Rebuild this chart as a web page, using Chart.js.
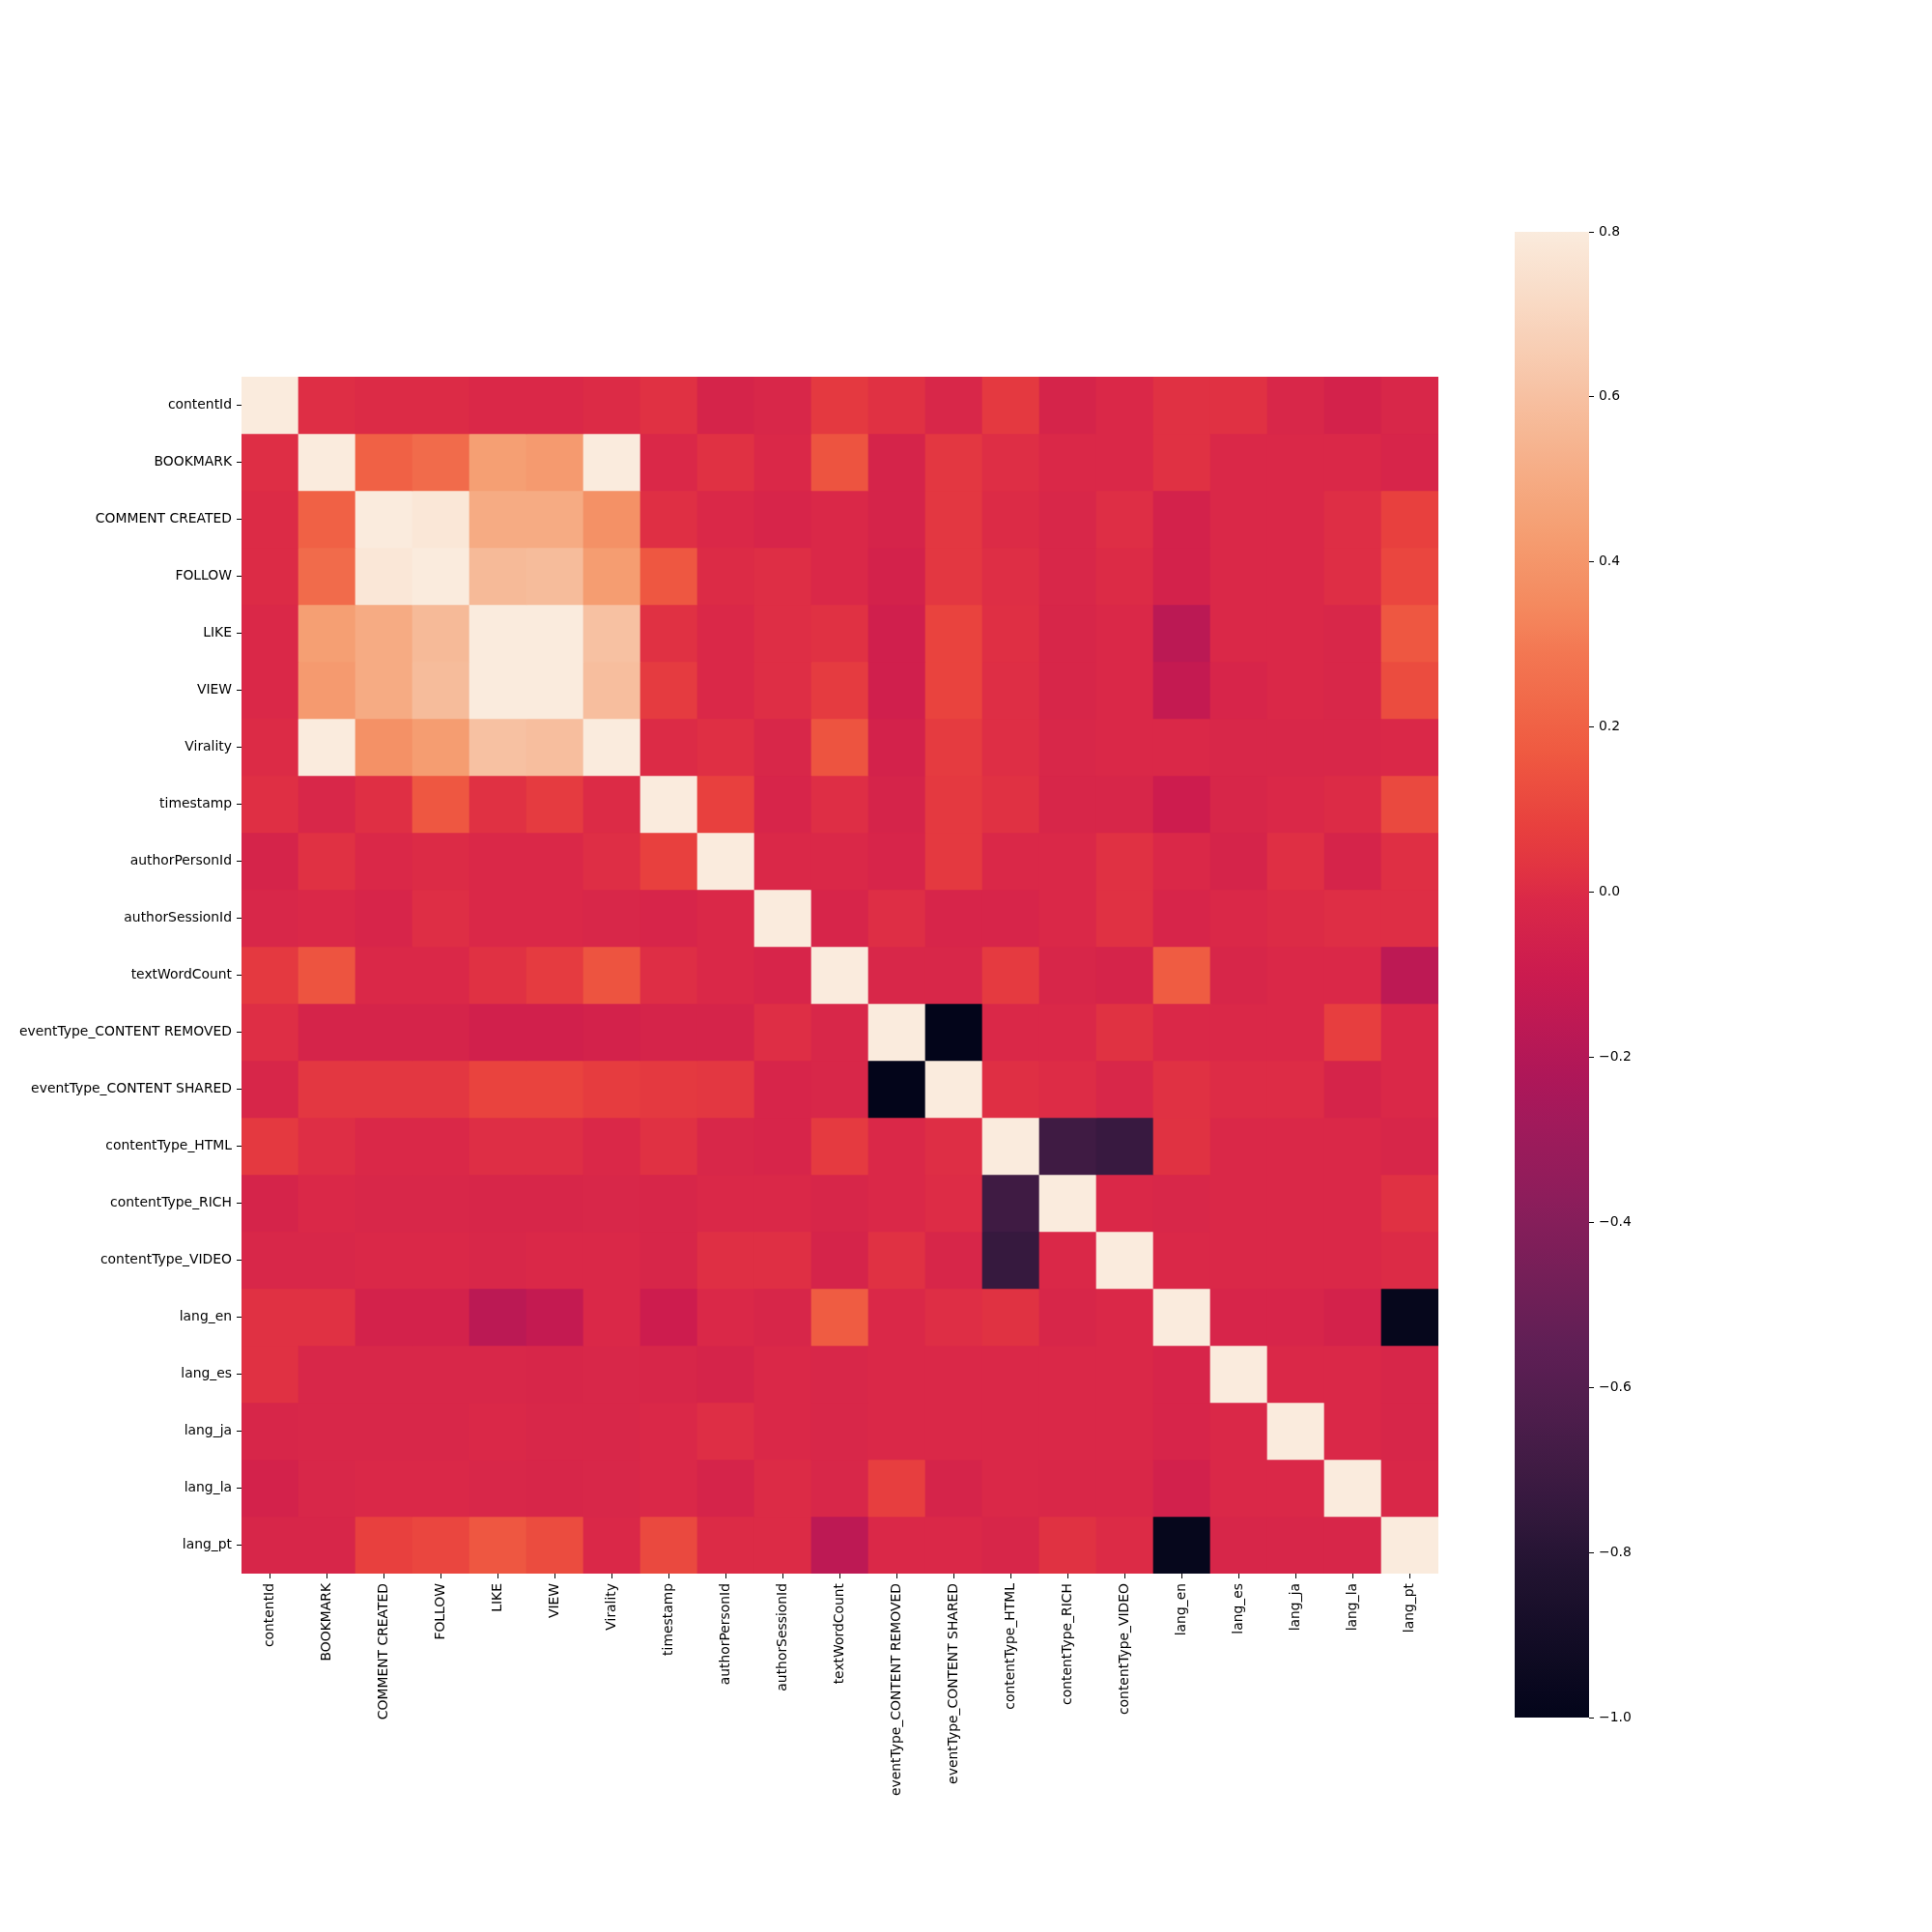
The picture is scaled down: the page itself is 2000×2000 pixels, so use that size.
<!DOCTYPE html>
<html><head><meta charset="utf-8">
<script src="https://cdn.jsdelivr.net/npm/chart.js@4.4.1/dist/chart.umd.min.js"></script>
<style>
html,body{margin:0;padding:0;background:#fff;}
#wrap{position:relative;width:2000px;height:2000px;}
canvas{position:absolute;top:0;}
</style>
</head><body>
<div id="wrap">
<canvas id="main" width="2000" height="2000" style="left:0;width:2000px;height:2000px"></canvas>
<canvas id="cbar" width="400" height="2000" style="left:1500px;width:400px;height:2000px"></canvas>
</div>
<script>
// ---- data ----
const labels = ["contentId","BOOKMARK","COMMENT CREATED","FOLLOW","LIKE","VIEW","Virality","timestamp","authorPersonId","authorSessionId","textWordCount","eventType_CONTENT REMOVED","eventType_CONTENT SHARED","contentType_HTML","contentType_RICH","contentType_VIDEO","lang_en","lang_es","lang_ja","lang_la","lang_pt"];

const rowContentId      = [1, 0.01, 0, 0, -0.01, -0.01, 0, 0.02, -0.04, -0.02, 0.05, 0.02, -0.02, 0.05, -0.04, -0.01, 0.02, 0.02, -0.02, -0.05, -0.02];
const rowBookmark       = [0.01, 1, 0.2, 0.24, 0.44, 0.42, 0.95, -0.01, 0.02, -0.01, 0.15, -0.04, 0.045, 0.01, -0.01, -0.01, 0.02, -0.01, -0.01, -0.01, -0.03];
const rowComment        = [0, 0.2, 1, 0.78, 0.5, 0.5, 0.38, 0.015, -0.01, -0.03, -0.01, -0.04, 0.045, 0, -0.02, 0.01, -0.05, -0.01, -0.01, 0.01, 0.08];
const rowFollow         = [0, 0.24, 0.78, 1, 0.57, 0.58, 0.43, 0.16, 0, 0.01, -0.01, -0.05, 0.045, 0.01, -0.02, 0, -0.05, -0.01, -0.01, 0.01, 0.1];
const rowLike           = [-0.01, 0.44, 0.5, 0.57, 1, 0.95, 0.6, 0.02, -0.01, 0.01, 0.02, -0.07, 0.09, 0.015, -0.025, -0.01, -0.17, -0.01, -0.01, -0.02, 0.16];
const rowView           = [-0.01, 0.42, 0.5, 0.58, 0.95, 1, 0.59, 0.06, -0.01, 0.01, 0.06, -0.07, 0.09, 0.01, -0.025, -0.01, -0.13, -0.03, -0.01, -0.02, 0.12];
const rowVirality       = [0, 0.95, 0.38, 0.43, 0.6, 0.59, 1, 0, 0.015, -0.02, 0.15, -0.05, 0.06, 0.01, -0.02, -0.01, -0.01, -0.02, -0.02, -0.02, -0.01];
const rowTimestamp      = [0.015, -0.02, 0.015, 0.16, 0.02, 0.06, 0, 1, 0.08, -0.03, 0.01, -0.04, 0.05, 0.02, -0.025, -0.025, -0.09, -0.025, -0.01, 0, 0.11];
const rowAuthorPerson   = [-0.04, 0.02, -0.01, 0, -0.01, -0.01, 0.01, 0.08, 1, -0.01, -0.01, -0.03, 0.05, -0.01, -0.01, 0.02, -0.01, -0.04, 0.015, -0.04, 0.015];
const rowAuthorSession  = [-0.02, -0.01, -0.03, 0.01, -0.01, -0.01, -0.02, -0.03, -0.01, 1, -0.03, 0.01, -0.03, -0.03, -0.01, 0.02, -0.03, -0.01, 0, 0.01, 0.01];
const rowTextWordCount  = [0.05, 0.15, -0.01, -0.01, 0.02, 0.06, 0.15, 0.01, -0.01, -0.03, 1, -0.02, -0.02, 0.055, -0.025, -0.04, 0.18, -0.025, -0.01, -0.01, -0.16];
const rowRemoved        = [0.01, -0.04, -0.04, -0.04, -0.065, -0.065, -0.05, -0.04, -0.04, 0.01, -0.02, 1, -1, -0.01, -0.01, 0.025, -0.01, -0.01, -0.01, 0.07, -0.01];
const rowShared         = [-0.025, 0.045, 0.045, 0.045, 0.09, 0.09, 0.065, 0.05, 0.045, -0.03, -0.02, -1, 1, 0.015, 0.005, -0.02, 0.02, 0.005, 0.005, -0.04, -0.01];
const rowHtml           = [0.05, 0.01, -0.01, -0.01, 0.01, 0.01, -0.01, 0.02, -0.02, -0.03, 0.055, -0.01, 0.01, 1, -0.7, -0.73, 0.025, -0.01, -0.01, -0.01, -0.025];
const rowRich           = [-0.04, -0.01, -0.02, -0.02, -0.025, -0.025, -0.02, -0.025, -0.01, -0.01, -0.025, -0.01, 0.005, -0.7, 1, -0.01, -0.02, -0.01, -0.01, -0.01, 0.02];
const rowVideo          = [-0.02, -0.02, -0.01, -0.01, -0.02, -0.01, -0.01, -0.025, 0.015, 0.015, -0.04, 0.02, -0.025, -0.74, -0.01, 1, -0.01, -0.01, -0.01, -0.01, 0.0];
const rowLangEn         = [0.02, 0.02, -0.05, -0.05, -0.17, -0.13, -0.01, -0.09, -0.01, -0.025, 0.18, -0.01, 0.01, 0.025, -0.025, -0.01, 1, -0.03, -0.03, -0.05, -0.98];
const rowLangEs         = [0.02, -0.02, -0.02, -0.02, -0.02, -0.025, -0.02, -0.025, -0.04, -0.01, -0.02, -0.01, -0.01, -0.01, -0.01, -0.01, -0.03, 1, -0.01, -0.01, -0.025];
const rowLangJa         = [-0.025, -0.02, -0.02, -0.02, -0.01, -0.02, -0.02, -0.01, 0.01, -0.01, -0.02, -0.01, -0.01, -0.01, -0.01, -0.01, -0.03, -0.01, 1, -0.01, -0.025];
const rowLangLa         = [-0.05, -0.02, -0.01, -0.01, -0.02, -0.025, -0.02, -0.01, -0.04, 0.0, -0.02, 0.07, -0.04, -0.01, -0.015, -0.015, -0.06, -0.01, -0.01, 1, -0.015];
const rowLangPt         = [-0.025, -0.025, 0.08, 0.1, 0.16, 0.12, -0.01, 0.11, 0.0, 0.0, -0.16, -0.01, -0.01, -0.025, 0.025, 0.0, -0.98, -0.025, -0.025, -0.025, 1];

const matrix = [rowContentId,rowBookmark,rowComment,rowFollow,rowLike,rowView,rowVirality,rowTimestamp,rowAuthorPerson,rowAuthorSession,rowTextWordCount,rowRemoved,rowShared,rowHtml,rowRich,rowVideo,rowLangEn,rowLangEs,rowLangJa,rowLangLa,rowLangPt];

const vmin = -1.0, vmax = 0.8;
const cbarTicks = [-1.0, -0.8, -0.6, -0.4, -0.2, 0.0, 0.2, 0.4, 0.6, 0.8];

// ---- rocket colormap (approximate) ----
const rocket = [
  [0.00,'#03051A'],[0.05,'#120C25'],[0.10,'#221331'],[0.143,'#35193E'],[0.20,'#4C1D4B'],
  [0.25,'#5F1F55'],[0.286,'#701F57'],[0.35,'#8D1D5B'],[0.40,'#A11A5B'],[0.429,'#AD1759'],
  [0.50,'#CB1B4F'],[0.55,'#DA2848'],[0.571,'#E13342'],[0.60,'#E8403E'],[0.65,'#EF5A41'],
  [0.714,'#F37651'],[0.75,'#F48A5F'],[0.80,'#F59F73'],[0.857,'#F6B48F'],[0.90,'#F7C5A8'],
  [0.95,'#F9D9C3'],[1.00,'#FAEBDD']
];
function hexRgb(h){return [parseInt(h.slice(1,3),16),parseInt(h.slice(3,5),16),parseInt(h.slice(5,7),16)];}
function cmapT(t){
  t=Math.max(0,Math.min(1,t));
  for(let i=1;i<rocket.length;i++){
    if(t<=rocket[i][0]){
      const [t0,c0]=rocket[i-1],[t1,c1]=rocket[i];
      const f=(t-t0)/(t1-t0), a=hexRgb(c0), b=hexRgb(c1);
      return 'rgb('+a.map((v,k)=>Math.round(v+(b[k]-v)*f)).join(',')+')';
    }
  }
  return rocket[rocket.length-1][1];
}
function colorFor(v){return cmapT((v-vmin)/(vmax-vmin));}

const FONT = {family:'"DejaVu Sans", sans-serif', size:13.9};
const minus = s => s.replace('-', '\u2212');

// ---- heatmap ----
const datasets = matrix.map((row, r) => ({
  label: labels[r],
  data: row.map(() => 1),
  backgroundColor: row.map(v => colorFor(v)),
  borderWidth: 0,
  barPercentage: 1.0,
  categoryPercentage: 1.0,
  stack: 's'
}));

new Chart(document.getElementById('main'), {
  type: 'bar',
  data: { labels: labels, datasets: datasets },
  options: {
    responsive: false, animation: false, devicePixelRatio: 1,
    layout: { padding: { left: 0, top: 390, right: 511, bottom: 121 } },
    plugins: { legend: {display:false}, tooltip: {enabled:false} },
    scales: {
      x: {
        type: 'category', stacked: true, offset: true,
        grid: { offset: false, drawOnChartArea: false, drawTicks: true, tickLength: 5, color: '#000', lineWidth: 1 },
        border: { display: false },
        ticks: { autoSkip: false, minRotation: 90, maxRotation: 90, padding: 5, color: '#000', font: FONT },
        afterFit: ax => { ax.height = 250; }
      },
      y: {
        type: 'linear', stacked: true, reverse: true, min: 0, max: labels.length,
        grid: { drawOnChartArea: false, drawTicks: true, tickLength: 5, color: '#000', lineWidth: 1 },
        border: { display: false },
        afterBuildTicks: ax => { ax.ticks = labels.map((_, i) => ({ value: i + 0.5 })); },
        ticks: { autoSkip: false, padding: 5, color: '#000', font: FONT,
                 callback: v => labels[Math.floor(v)] },
        afterFit: ax => { ax.width = 250; }
      }
    }
  }
});

// ---- colorbar ----
function cbarFill(ctx){
  const chart = ctx.chart, y = chart.scales && chart.scales.y;
  if (!chart.chartArea || !y) return colorFor(0);
  const y0 = y.getPixelForValue(vmin), y1 = y.getPixelForValue(vmax);
  const g = chart.ctx.createLinearGradient(0, y0, 0, y1);
  for (let i = 0; i <= 60; i++) { const t = i / 60; g.addColorStop(t, cmapT(t)); }
  return g;
}
new Chart(document.getElementById('cbar'), {
  type: 'bar',
  data: { labels: ['cbar'], datasets: [{ data: [[vmin, vmax]], backgroundColor: cbarFill, borderWidth: 0, barPercentage: 1.0, categoryPercentage: 1.0 }] },
  options: {
    responsive: false, animation: false, devicePixelRatio: 1,
    layout: { padding: { left: 68, top: 240, right: 0, bottom: 222 } },
    plugins: { legend: {display:false}, tooltip: {enabled:false} },
    scales: {
      x: { display: false, offset: true },
      y: {
        type: 'linear', position: 'right', min: vmin, max: vmax,
        grid: { drawOnChartArea: false, drawTicks: true, tickLength: 5, color: '#000', lineWidth: 1 },
        border: { display: false },
        afterBuildTicks: ax => { ax.ticks = cbarTicks.map(v => ({ value: v })); },
        ticks: { autoSkip: false, padding: 5, color: '#000', font: FONT,
                 callback: v => minus(Number(v).toFixed(1)) },
        afterFit: ax => { ax.width = 255; }
      }
    }
  }
});
</script>
</body></html>
